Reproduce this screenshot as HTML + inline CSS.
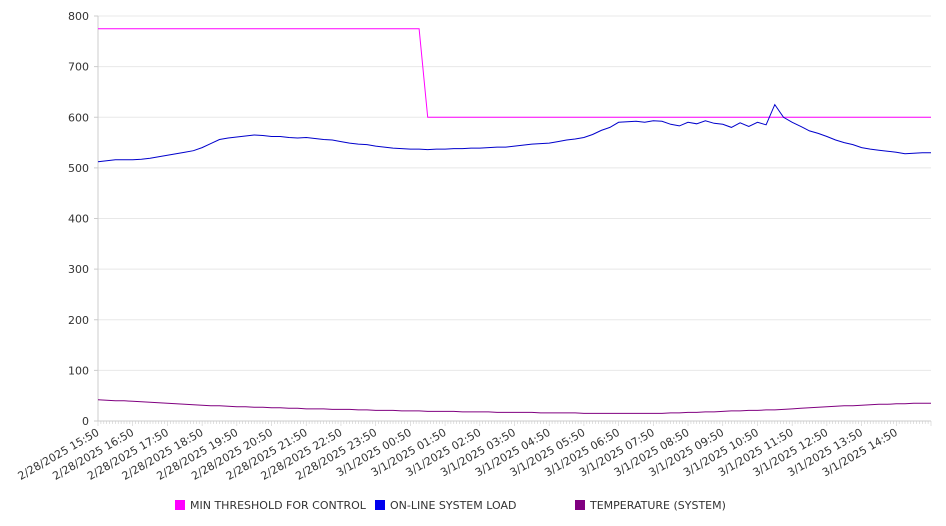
<!DOCTYPE html>
<html><head><meta charset="utf-8"><style>
body{margin:0;background:#fff;}
svg{display:block;font-family:"DejaVu Sans","Liberation Sans",sans-serif;}
</style></head><body>
<svg id="chart" width="946" height="526" viewBox="0 0 946 526" xmlns="http://www.w3.org/2000/svg">
<g id="grid"></g>
<g id="yaxis"></g>
<g id="xaxis"></g>
<g id="series"></g>
<g font-size="11" fill="#333">
 <g><rect x="175" y="500" width="10" height="10" fill="#ff00ff"/><text x="190" y="509">MIN THRESHOLD FOR CONTROL</text></g>
 <g><rect x="375" y="500" width="10" height="10" fill="#0000ee"/><text x="390" y="509">ON-LINE SYSTEM LOAD</text></g>
 <g><rect x="575" y="500" width="10" height="10" fill="#800080"/><text x="590" y="509">TEMPERATURE (SYSTEM)</text></g>
</g>
</svg>
<script>
const xLabels=["2/28/2025 15:50","2/28/2025 16:50","2/28/2025 17:50","2/28/2025 18:50","2/28/2025 19:50","2/28/2025 20:50","2/28/2025 21:50","2/28/2025 22:50","2/28/2025 23:50","3/1/2025 00:50","3/1/2025 01:50","3/1/2025 02:50","3/1/2025 03:50","3/1/2025 04:50","3/1/2025 05:50","3/1/2025 06:50","3/1/2025 07:50","3/1/2025 08:50","3/1/2025 09:50","3/1/2025 10:50","3/1/2025 11:50","3/1/2025 12:50","3/1/2025 13:50","3/1/2025 14:50"];
const yTicks=[0,100,200,300,400,500,600,700,800];
const loadValues=[512,514,516,516,516,517,519,522,525,528,531,534,540,548,556,559,561,563,565,564,562,562,560,559,560,558,556,555,552,549,547,546,543,541,539,538,537,537,536,537,537,538,538,539,539,540,541,541,543,545,547,548,549,552,555,557,560,566,574,580,590,591,592,590,593,592,586,583,590,587,593,588,586,580,589,582,590,585,625,600,590,582,573,568,562,555,550,546,540,537,535,533,531,528,529,530,530];
const tempValues=[42,41,40,40,39,38,37,36,35,34,33,32,31,30,30,29,28,28,27,27,26,26,25,25,24,24,24,23,23,23,22,22,21,21,21,20,20,20,19,19,19,19,18,18,18,18,17,17,17,17,17,16,16,16,16,16,15,15,15,15,15,15,15,15,15,15,16,16,17,17,18,18,19,20,20,21,21,22,22,23,24,25,26,27,28,29,30,30,31,32,33,33,34,34,35,35,35];
const thresholdValues=[775,775,775,775,775,775,775,775,775,775,775,775,775,775,775,775,775,775,775,775,775,775,775,775,775,775,775,775,775,775,775,775,775,775,775,775,775,775,600,600,600,600,600,600,600,600,600,600,600,600,600,600,600,600,600,600,600,600,600,600,600,600,600,600,600,600,600,600,600,600,600,600,600,600,600,600,600,600,600,600,600,600,600,600,600,600,600,600,600,600,600,600,600,600,600,600,600];
const X0=98,X1=931,Y0=421,Y1=16,N=96;
const xs=i=>X0+(X1-X0)*i/N;
const ys=v=>Y0-(Y0-Y1)*v/800;
const NS="http://www.w3.org/2000/svg";
function mk(tag,parent,attrs){const e=document.createElementNS(NS,tag);for(const k in attrs)e.setAttribute(k,attrs[k]);parent.appendChild(e);return e;}
const grid=document.getElementById('grid'),yaxis=document.getElementById('yaxis'),xaxis=document.getElementById('xaxis'),series=document.getElementById('series');
yTicks.forEach(t=>{
 const g=mk('line',grid,{x1:X0,x2:X1,y1:ys(t),y2:ys(t),stroke:t===0?'#ccc':'#e8e8e8','stroke-width':1});
 
 
 const tk=mk('line',yaxis,{x1:X0-4,x2:X0,y1:ys(t),y2:ys(t),stroke:'#ccc'});
 
 
 const tx=mk('text',yaxis,{x:X0-9,y:ys(t)+4,'text-anchor':'end','font-size':11,fill:'#333'});
 tx.textContent=t;
 
 
});
const ax=mk('line',yaxis,{x1:X0,x2:X0,y1:Y1,y2:Y0,stroke:'#ccc'});


for(let m=0;m<=N*3;m++){
 const x=X0+(X1-X0)*m/(N*3);
 const l=mk('line',xaxis,{x1:x,x2:x,y1:Y0,y2:Y0+(m%12===0?5:3),stroke:'#ccc','stroke-width':0.6});
 
 
}
xLabels.forEach((s,i)=>{
 const x=xs(i*4);
 const t=mk('text',xaxis,{x:x,y:Y0+14,'text-anchor':'end','font-size':11,fill:'#333',transform:`rotate(-30 ${x} ${Y0+10})`});
 t.textContent=s;
 
 
});
function line(vals,color,name){
 const d=vals.map((v,i)=>(i?'L':'M')+xs(i).toFixed(1)+' '+ys(v).toFixed(1)).join(' ');
 const p=mk('path',series,{d:d,fill:'none',stroke:color,'stroke-width':1});
 
 
}
line(thresholdValues,'#ff00ff','threshold-line');
line(tempValues,'#800080','temperature-line');
line(loadValues,'#0000cc','load-line');
</script>
</body></html>
